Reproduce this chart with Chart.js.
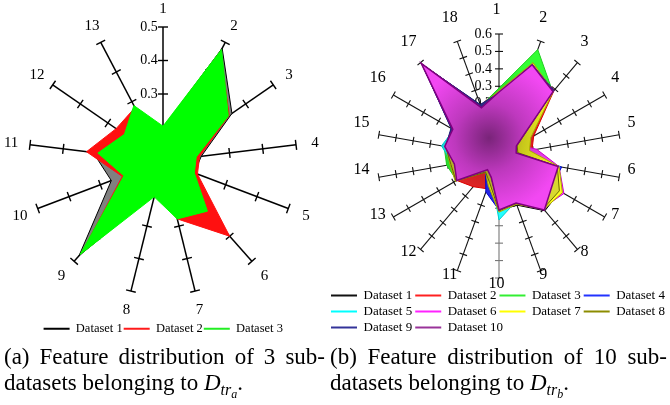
<!DOCTYPE html>
<html><head><meta charset="utf-8">
<script src="https://cdn.jsdelivr.net/npm/chart.js@4/dist/chart.umd.min.js"></script>
<style>
html,body{margin:0;padding:0;background:#fff;width:670px;height:405px;overflow:hidden;}
#c1{position:absolute;left:0;top:0;}
#c2{position:absolute;left:320px;top:0;}
.cap{position:absolute;font-family:"Liberation Serif","Times New Roman",serif;font-size:23px;color:#000;line-height:26px;}
.j{text-align:justify;text-align-last:justify;}
.n{white-space:nowrap;}
.s1{font-size:16px;position:relative;top:5px;font-style:italic;}
.s2{font-size:12px;position:relative;top:3px;font-style:italic;}
</style></head><body>
<canvas id="c1" width="330" height="345"></canvas>
<canvas id="c2" width="350" height="344"></canvas>
<div class="cap" style="left:4px;top:344px;width:321px">
  <div class="j">(a) Feature distribution of 3 sub-</div>
  <div class="n">datasets belonging to <i>D</i><span class="s1">tr<span class="s2">a</span></span>.</div>
</div>
<div class="cap" style="left:330px;top:344px;width:337px">
  <div class="j">(b) Feature distribution of 10 sub-</div>
  <div class="n">datasets belonging to <i>D</i><span class="s1">tr<span class="s2">b</span></span>.</div>
</div>
<script>
// ---------- data: chart (a) ----------
const axesA = ['1','2','3','4','5','6','7','8','9','10','11','12','13'];
const ticksA = [0.1, 0.2, 0.3, 0.4, 0.5];
const namesA = ['Dataset 1','Dataset 2','Dataset 3'];
const a1 = [0.20, 0.48, 0.35, 0.215, 0.20, 0.30, 0.27, 0.20, 0.478, 0.265, 0.31, 0.25, 0.28];
const a2 = [0.20, 0.47, 0.34, 0.21, 0.21, 0.40, 0.278, 0.20, 0.468, 0.23, 0.33, 0.27, 0.28];
const a3 = [0.204, 0.476, 0.337, 0.20, 0.20, 0.30, 0.278, 0.21, 0.473, 0.225, 0.296, 0.24, 0.287];

// ---------- data: chart (b) ----------
const axesB = ['1','2','3','4','5','6','7','8','9','10','11','12','13','14','15','16','17','18'];
const ticksB = [-0.1, 0, 0.1, 0.2, 0.3, 0.4, 0.5, 0.6];
const namesB = ['Dataset 1','Dataset 2','Dataset 3','Dataset 4','Dataset 5','Dataset 6','Dataset 7','Dataset 8','Dataset 9','Dataset 10'];
const b1  = [0.26, 0.45, 0.37, 0.02, 0.0, 0.24, 0.305, 0.31, 0.2, 0.215, 0.03, 0.0, 0.17, 0.16, 0.21, 0.2, 0.58, 0.2];
const b2  = [0.28, 0.465, 0.392, 0.13, 0.092, 0.24, 0.25, 0.29, 0.18, 0.2, 0.10, 0.13, 0.18, 0.17, 0.21, 0.2, 0.59, 0.21];
const b3  = [0.29, 0.55, 0.38, 0.03, 0.02, 0.24, 0.25, 0.29, 0.18, 0.2, 0.03, 0.0, 0.18, 0.205, 0.22, 0.2, 0.59, 0.205];
const b4  = [0.265, 0.462, 0.39, 0.03, 0.03, 0.265, 0.25, 0.3, 0.19, 0.21, 0.12, 0.02, 0.17, 0.17, 0.21, 0.215, 0.59, 0.21];
const b5  = [0.26, 0.45, 0.375, 0.02, 0.02, 0.255, 0.26, 0.29, 0.18, 0.267, 0.03, 0.0, 0.17, 0.17, 0.235, 0.2, 0.58, 0.2];
const b6  = [0.26, 0.45, 0.37, 0.03, 0.12, 0.25, 0.33, 0.29, 0.18, 0.2, 0.03, 0.0, 0.17, 0.16, 0.2, 0.2, 0.58, 0.2];
const b7  = [0.275, 0.47, 0.385, 0.11, 0.078, 0.25, 0.32, 0.3, 0.195, 0.222, 0.08, 0.02, 0.19, 0.185, 0.21, 0.21, 0.585, 0.205];
const b8  = [0.26, 0.455, 0.375, 0.02, 0.01, 0.24, 0.3, 0.295, 0.19, 0.215, 0.06, 0.02, 0.185, 0.18, 0.21, 0.205, 0.585, 0.2];
const b9  = [0.262, 0.46, 0.386, 0.012, 0.0, 0.24, 0.245, 0.295, 0.18, 0.205, 0.03, 0.0, 0.17, 0.16, 0.212, 0.218, 0.585, 0.215];
const b10 = [0.267, 0.457, 0.382, 0.015, 0.0, 0.245, 0.25, 0.305, 0.187, 0.21, 0.03, 0.003, 0.18, 0.16, 0.216, 0.206, 0.594, 0.195];

// ---------- styles ----------
const lineA = ['#000000', '#ff1a1a', '#22ee22'];
const fillA = ['#808080', '#ff1010', '#00ff00'];
const lineB = ['#111111','#ff2020','#33ee33','#2233ff','#00ffff','#ff22ff','#ffff00','#8c8c00','#333399','#993399'];
const fillB = ['#909090','#ff2a2a','#33ff33','#2a2aff','#22ffff','#ff44ff','#ffff22','#d8d830','#3a3aa8','#f248f2'];
const edgeB = ['#000000','#dd0000','#22cc22','#0000cc','#00cccc','#cc00cc','#aaaa00','#666600','#222277','#800080'];

Chart.defaults.font.family = '"Liberation Serif", "Times New Roman", serif';
Chart.defaults.color = '#000';

const fmtA = v => String(Math.round(v * 10) / 10) + '\u00a0'.repeat(8);
const fmtB = v => String(Math.round(v * 10) / 10) + '\u00a0'.repeat(9);

function shade(hex, f) {
  const n = parseInt(hex.slice(1), 16);
  const r = (n >> 16) & 255, g = (n >> 8) & 255, b = n & 255;
  return 'rgb(' + Math.round(r * f) + ',' + Math.round(g * f) + ',' + Math.round(b * f) + ')';
}
function gradFill(base) {
  return (c) => {
    const ch = c.chart; const s = ch.scales && ch.scales.r;
    if (!s || !isFinite(s.xCenter) || !s.drawingArea) return base;
    const x = s.xCenter - 10, y = s.yCenter - 18;
    const g = ch.ctx.createRadialGradient(x, y, 0, x, y, s.drawingArea * 0.62);
    g.addColorStop(0, shade(base, 0.5));
    g.addColorStop(0.45, shade(base, 0.78));
    g.addColorStop(1, base);
    return g;
  };
}

// draws tick marks on every axis and the axis names, via the radial scale
const axisDeco = {
  id: 'axisDeco',
  beforeDatasetsDraw(chart, args, o) {
    const s = chart.scales.r, ctx = chart.ctx;
    const labels = chart.data.labels;
    ctx.save();
    ctx.lineWidth = o.lineWidth;
    labels.forEach((lab, i) => {
      const a = s.getIndexAngle(i) - Math.PI / 2;
      const px = -Math.sin(a), py = Math.cos(a);
      ctx.strokeStyle = (i === o.grayIndex) ? o.grayColor : o.color;
      s.ticks.forEach(t => {
        if (t.value <= s.min + 1e-9) return;
        const p = s.getPointPosition(i, s.getDistanceFromCenterForValue(t.value));
        ctx.beginPath();
        ctx.moveTo(p.x - px * o.half, p.y - py * o.half);
        ctx.lineTo(p.x + px * o.half, p.y + py * o.half);
        ctx.stroke();
      });
    });
    ctx.font = o.font;
    ctx.fillStyle = '#000';
    ctx.textAlign = 'center';
    ctx.textBaseline = 'middle';
    labels.forEach((lab, i) => {
      const p = s.getPointPosition(i, o.labelDist);
      ctx.fillText(lab, p.x + o.dx, p.y + o.dy);
    });
    ctx.restore();
  }
};

function legendGen(colors) {
  return (chart) => {
    const items = Chart.defaults.plugins.legend.labels.generateLabels(chart);
    items.forEach(it => {
      it.strokeStyle = colors[it.datasetIndex];
      it.lineWidth = 2;
      it.pointStyle = 'line';
      it.fontColor = '#000';
    });
    return items;
  };
}
const byIndex = (x, y) => x.datasetIndex - y.datasetIndex;

// ---------- chart (a) ----------
const setsA = [a1, a2, a3];
new Chart(document.getElementById('c1'), {
  type: 'radar',
  data: {
    labels: axesA,
    datasets: setsA.map((d, i) => ({
      label: namesA[i], data: d,
      borderColor: i === 0 ? '#000' : fillA[i], borderWidth: 1,
      backgroundColor: fillA[i], fill: 'start',
      pointRadius: 0, order: setsA.length - i
    }))
  },
  options: {
    responsive: false, animation: false, devicePixelRatio: 1, events: [],
    layout: { padding: { left: 22, right: 25.5, top: 0.5, bottom: 0 } },
    scales: {
      r: {
        min: ticksA[0], max: ticksA[ticksA.length - 1],
        ticks: { stepSize: ticksA[1] - ticksA[0], display: true, showLabelBackdrop: false,
                 backdropPadding: 0, font: { size: 14 }, color: '#000', callback: fmtA },
        grid: { display: false },
        angleLines: { display: true, color: '#000', lineWidth: 1.5 },
        pointLabels: { display: false }
      }
    },
    plugins: {
      tooltip: { enabled: false },
      legend: {
        position: 'bottom', align: 'center',
        labels: { usePointStyle: true, pointStyle: 'line', pointStyleWidth: 26, sort: byIndex,
                  padding: 1, font: { size: 12.5 }, color: '#000', generateLabels: legendGen(lineA) }
      },
      axisDeco: { lineWidth: 1.4, half: 5, color: '#000', grayIndex: -1, grayColor: '#000',
                  font: '15px "Liberation Serif", serif', labelDist: 153, dx: 0, dy: 1 }
    }
  },
  plugins: [axisDeco]
});

// ---------- chart (b) ----------
const setsB = [b1, b2, b3, b4, b5, b6, b7, b8, b9, b10];
new Chart(document.getElementById('c2'), {
  type: 'radar',
  data: {
    labels: axesB,
    datasets: setsB.map((d, i) => ({
      label: namesB[i], data: d,
      borderColor: edgeB[i], borderWidth: i === 9 ? 1.5 : 1,
      backgroundColor: gradFill(fillB[i]), fill: 'start',
      pointRadius: 0, order: setsB.length - i
    }))
  },
  options: {
    responsive: false, animation: false, devicePixelRatio: 1, events: [],
    layout: { padding: { left: 8, right: 0, top: 26, bottom: 0 } },
    scales: {
      r: {
        min: ticksB[0], max: ticksB[ticksB.length - 1],
        ticks: { stepSize: ticksB[2] - ticksB[1], display: true, showLabelBackdrop: false,
                 backdropPadding: 1, font: { size: 14 }, color: '#000', callback: fmtB },
        grid: { display: false },
        angleLines: { display: true, color: (c) => c.index === 9 ? '#777' : '#111', lineWidth: 1.1 },
        pointLabels: { display: false }
      }
    },
    plugins: {
      tooltip: { enabled: false },
      legend: {
        position: 'bottom', align: 'start',
        labels: { usePointStyle: true, pointStyle: 'line', pointStyleWidth: 26, sort: byIndex,
                  padding: 3, font: { size: 13 }, color: '#000', generateLabels: legendGen(lineB) }
      },
      axisDeco: { lineWidth: 1.1, half: 4, color: '#111', grayIndex: 9, grayColor: '#777',
                  font: '16px "Liberation Serif", serif', labelDist: 137, dx: -2.5, dy: -9.5 }
    }
  },
  plugins: [axisDeco]
});
</script>
</body></html>
